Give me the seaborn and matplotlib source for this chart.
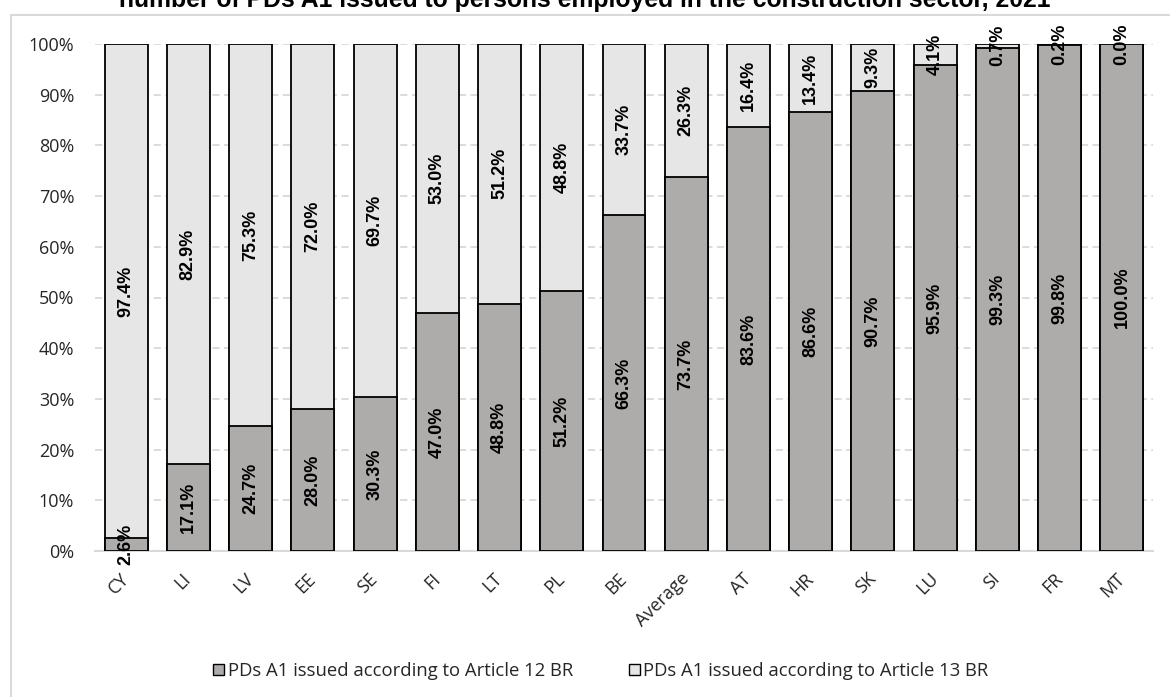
import matplotlib
matplotlib.use("Agg")
import matplotlib.pyplot as plt
from matplotlib.patches import Patch
from matplotlib.lines import Line2D
import seaborn as sns
import pandas as pd

# Share of PDs A1 by legal basis, construction sector, 2021 (percent)
countries = ["CY", "LI", "LV", "EE", "SE", "FI", "LT", "PL", "BE", "Average",
             "AT", "HR", "SK", "LU", "SI", "FR", "MT"]
art12 = [2.6, 17.1, 24.7, 28.0, 30.3, 47.0, 48.8, 51.2, 66.3, 73.7,
         83.6, 86.6, 90.7, 95.9, 99.3, 99.8, 100.0]
art13 = [97.4, 82.9, 75.3, 72.0, 69.7, 53.0, 51.2, 48.8, 33.7, 26.3,
         16.4, 13.4, 9.3, 4.1, 0.7, 0.2, 0.0]
series_names = ["PDs A1 issued according to Article 12 BR",
                "PDs A1 issued according to Article 13 BR"]
yticks = [0, 10, 20, 30, 40, 50, 60, 70, 80, 90, 100]

df = pd.DataFrame({"country": countries, "art12": art12, "art13": art13})
df["total"] = df["art12"] + df["art13"]

dark = "#AEABAB"
light = "#E7E6E6"
body_font = ["Open Sans", "DejaVu Sans"]

sns.set_theme(style="white")
plt.rcParams["font.family"] = ["Liberation Sans", "DejaVu Sans"]

fig = plt.figure(figsize=(11.70, 6.97), dpi=100)
ax = fig.add_axes([95 / 1170, 1 - 551 / 697, (1153 - 95) / 1170, (551 - 44) / 697])

# stacked bars: full height in light grey, Article 12 share drawn over it
sns.barplot(data=df, x="country", y="total", color=light, width=0.69,
            edgecolor="black", linewidth=1.3, saturation=1, ax=ax, zorder=3)
sns.barplot(data=df, x="country", y="art12", color=dark, width=0.69,
            edgecolor="black", linewidth=1.3, saturation=1, ax=ax, zorder=4)

ax.set_xlim(-0.5, len(countries) - 0.5)
ax.set_ylim(0, 100)
ax.set_yticks(yticks)
ax.set_yticklabels([f"{v}%" for v in yticks], fontsize=13, family=body_font,
                   color="#262626")
ax.set_xticks(range(len(countries)))
ax.set_xticklabels(countries, rotation=45, ha="right", va="center",
                   rotation_mode="anchor", fontsize=13, family=body_font,
                   color="#262626")
ax.tick_params(axis="y", length=0, pad=15)
ax.tick_params(axis="x", length=0, pad=18)
ax.set_xlabel("")
ax.set_ylabel("")

for s in ["top", "right", "left"]:
    ax.spines[s].set_visible(False)
ax.spines["bottom"].set_color("#D9D9D9")
ax.spines["bottom"].set_linewidth(1.5)
ax.spines["bottom"].set_zorder(2)

for v in yticks[1:]:
    ax.axhline(v, color="#D9D9D9", linewidth=1.3, linestyle=(0, (4, 2.5)), zorder=1)

# value labels centred in each segment
for i, (a, b) in enumerate(zip(art12, art13)):
    ax.text(i, a / 2, f"{a:.1f}%", rotation=90, ha="center", va="center",
            fontsize=13, fontweight="bold", color="black", zorder=6, clip_on=False)
    ax.text(i, a + b / 2, f"{b:.1f}%", rotation=90, ha="center", va="center",
            fontsize=13, fontweight="bold", color="black", zorder=6, clip_on=False)

# chart frame
fig.add_artist(Line2D([11 / 1170, 11 / 1170], [0, 1 - 14.7 / 697],
                      transform=fig.transFigure, color="#D9D9D9", linewidth=1.5))
fig.add_artist(Line2D([11 / 1170, 1], [1 - 14.7 / 697, 1 - 14.7 / 697],
                      transform=fig.transFigure, color="#D9D9D9", linewidth=1.5))

fig.text(0.5, 1 - 7.5 / 697,
         "number of PDs A1 issued to persons employed in the construction sector, 2021",
         ha="center", va="baseline", fontsize=17.8, fontweight="bold", color="black")

handles = [Patch(facecolor=dark, edgecolor="black", linewidth=1.0, label=series_names[0]),
           Patch(facecolor=light, edgecolor="black", linewidth=1.0, label=series_names[1])]
fig.legend(handles=handles, loc="center", bbox_to_anchor=(601 / 1170, 1 - 671 / 697),
           ncol=2, frameon=False, handlelength=0.6, handleheight=0.6,
           handletextpad=0.2, columnspacing=3.0,
           prop={"family": body_font, "size": 13.3})

fig.savefig("out.png", dpi=100)
